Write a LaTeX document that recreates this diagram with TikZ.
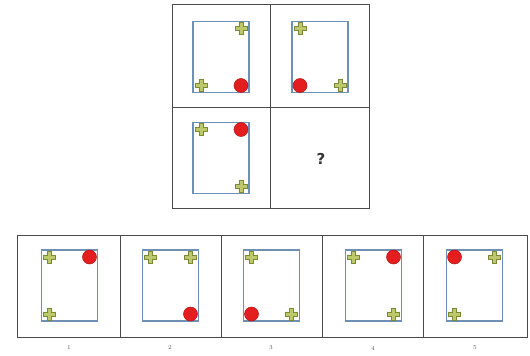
\documentclass[tikz,border=0pt]{standalone}
\usepackage{fontspec}
\newfontfamily\qfont{DejaVu Sans}
\definecolor{framegray}{HTML}{4A4A4A}
\definecolor{innerblue}{HTML}{6F8FB5}
\definecolor{plusfill}{HTML}{BCC86A}
\definecolor{plusedge}{HTML}{7C8A35}
\definecolor{dotfill}{HTML}{E41E1E}
\definecolor{dotedge}{HTML}{B01515}
\tikzset{
  frame/.style={draw=framegray, line width=1pt},
  innerrect/.style={draw=innerblue, line width=1.2pt},
  plusmark/.pic={
    \filldraw[fill=plusfill, draw=plusedge, line width=0.5pt]
      (-2.2,-6) -- (2.2,-6) -- (2.2,-2.2) -- (6,-2.2) -- (6,2.2) -- (2.2,2.2)
      -- (2.2,6) -- (-2.2,6) -- (-2.2,2.2) -- (-6,2.2) -- (-6,-2.2) -- (-2.2,-2.2) -- cycle;
  },
  dotmark/.pic={
    \filldraw[fill=dotfill, draw=dotedge, line width=0.5pt] (0,0) circle (7);
  },
  blankmark/.pic={},
  lbl/.style={font=\fontsize{6}{7}\selectfont, text=black!65},
}
% #1 x, #2 y, #3 TL, #4 TR, #5 BL, #6 BR
\newcommand\panelat[6]{%
  \draw[innerrect] (#1-28,#2-35.5) rectangle (#1+28,#2+35.5);
  \pic at (#1-20,#2-28.5) {#3};
  \pic at (#1+20,#2-28.5) {#4};
  \pic at (#1-20,#2+28.5) {#5};
  \pic at (#1+20,#2+28.5) {#6};
}
\begin{document}
\begin{tikzpicture}[x=1pt,y=-1pt]
\useasboundingbox[fill=white] (0,0) rectangle (530,356);
% top grid
\draw[frame] (172,4) rectangle (369,208);
\draw[frame] (270,4) -- (270,208);
\draw[frame] (172,107) -- (369,107);
\panelat{221}{57}{blankmark}{plusmark}{plusmark}{dotmark}
\panelat{320}{57}{plusmark}{blankmark}{dotmark}{plusmark}
\panelat{221}{158}{plusmark}{dotmark}{blankmark}{plusmark}
\node[font=\qfont\bfseries\fontsize{15}{17}\selectfont, text=black!80] (q) at (321,159) {?};
% bottom row
\draw[frame] (17,235) rectangle (527,337);
\foreach \xx in {120,221,322,423} \draw[frame] (\xx,235) -- (\xx,337);
\panelat{69.5}{285.5}{plusmark}{dotmark}{plusmark}{blankmark}
\panelat{170.5}{285.5}{plusmark}{plusmark}{blankmark}{dotmark}
\panelat{271.5}{285.5}{plusmark}{blankmark}{dotmark}{plusmark}
\panelat{373.5}{285.5}{plusmark}{dotmark}{blankmark}{plusmark}
\panelat{474.5}{285.5}{dotmark}{plusmark}{plusmark}{blankmark}
\node[lbl] (l1) at (69,348) {1};
\node[lbl] (l2) at (170,348) {2};
\node[lbl] (l3) at (271,348) {3};
\node[lbl] (l4) at (373,348) {4};
\node[lbl] (l5) at (475,348) {5};
\end{tikzpicture}
\end{document}
